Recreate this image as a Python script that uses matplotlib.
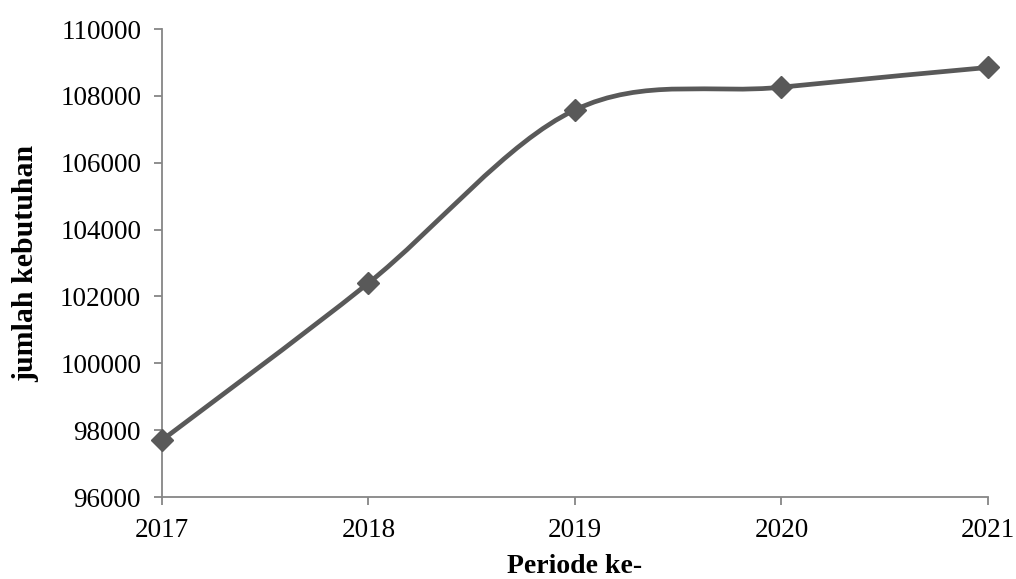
import matplotlib
matplotlib.use("Agg")
import matplotlib.pyplot as plt
from matplotlib.path import Path
from matplotlib.patches import PathPatch

years = ["2017", "2018", "2019", "2020", "2021"]
kebutuhan = [97700, 102400, 107580, 108260, 108850]

plt.rcParams['font.family'] = ['Liberation Serif', 'DejaVu Serif']

line_color = "#595959"
axis_color = "#868686"

fig = plt.figure(figsize=(10.16, 5.79), dpi=100)
ax = fig.add_axes([0.1594, 0.1416, 0.813, 0.8083])

x = list(range(len(years)))
y = kebutuhan

# smoothed line like Excel (Catmull-Rom style bezier)
verts = [(x[0], y[0])]
codes = [Path.MOVETO]
n = len(x)
for i in range(n - 1):
    p0 = max(i - 1, 0)
    p3 = min(i + 2, n - 1)
    c1 = (x[i] + (x[i + 1] - x[p0]) / 6, y[i] + (y[i + 1] - y[p0]) / 6)
    c2 = (x[i + 1] - (x[p3] - x[i]) / 6, y[i + 1] - (y[p3] - y[i]) / 6)
    verts += [c1, c2, (x[i + 1], y[i + 1])]
    codes += [Path.CURVE4] * 3
ax.add_patch(PathPatch(Path(verts, codes), facecolor="none", edgecolor=line_color,
                       lw=3.4, capstyle="round", joinstyle="round", zorder=2,
                       clip_on=False))
ax.plot(x, y, linestyle="none", marker="D", markersize=11, color=line_color,
        zorder=3, clip_on=False)

ax.set_xlim(0, n - 1)
ax.set_ylim(96000, 110000)
ax.set_xticks(x)
ax.set_xticklabels(years)
ax.set_yticks(range(96000, 110001, 2000))

for s in ["top", "right"]:
    ax.spines[s].set_visible(False)
for s in ["left", "bottom"]:
    ax.spines[s].set_color(axis_color)
    ax.spines[s].set_linewidth(1.3)
ax.tick_params(axis="both", direction="out", length=6, width=1.3, color=axis_color,
               labelsize=19.5, labelcolor="black")
ax.tick_params(axis="y", pad=9)
ax.tick_params(axis="x", pad=9)

ax.set_xlabel("Periode ke-", fontsize=20, fontweight="bold", labelpad=8)
ax.set_ylabel("jumlah kebutuhan", fontsize=21.5, fontweight="bold", labelpad=15)

fig.savefig("out.png", dpi=100)
